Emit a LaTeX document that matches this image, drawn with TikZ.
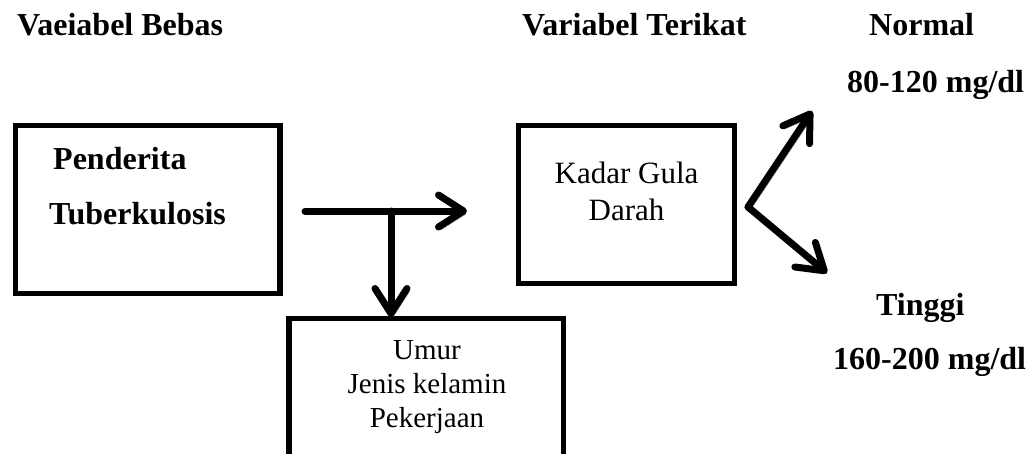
\documentclass[tikz,border=0pt]{standalone}
\usepackage{fontspec}
\setmainfont{Liberation Serif}
\usetikzlibrary{arrows.meta}

\tikzset{
  lbl/.style={anchor=base west, inner sep=0pt, font=\fontsize{32}{36}\selectfont\bfseries},
  txt/.style={anchor=base, inner sep=0pt, font=\fontsize{31}{34}\selectfont},
  frame/.style={draw=black, line width=5.5pt},
  flow/.style={line width=7pt, line cap=round, line join=round,
    -{Straight Barb[length=25pt,width=32pt,round]},
    preaction={draw=black!45, transform canvas={shift={(2.5pt,-3pt)}}}},
}

\begin{document}
\begin{tikzpicture}[x=1pt, y=-1pt]
  \useasboundingbox (0,0) rectangle (1031,453);
  \clip (0,0) rectangle (1031,453);

  % column headings
  \node[lbl] (hbebas)  at (17,35)  {Vaeiabel Bebas};
  \node[lbl] (hterikat) at (522,35) {Variabel Terikat};
  \node[lbl] (hnormal) at (869,35) {Normal};
  \node[lbl] (vnormal) at (847,92) {80-120 mg/dl};
  \node[lbl] (htinggi) at (876,315) {Tinggi};
  \node[lbl] (vtinggi) at (833,369) {160-200 mg/dl};

  % boxes
  \draw[frame] (15.5,125.5) rectangle (280,293.5);
  \node[lbl] (pend) at (53,169) {Penderita};
  \node[lbl] (tbc)  at (49,224) {Tuberkulosis};

  \draw[frame] (518.5,125.5) rectangle (734.5,283.5);
  \node[txt] (kadar) at (626.5,183) {Kadar Gula};
  \node[txt] (darah) at (626.5,220) {Darah};

  \draw[frame] (289,318.5) rectangle (563.5,458);
  \node[txt, font=\fontsize{29}{33}\selectfont] (umur)  at (427,359) {Umur};
  \node[txt, font=\fontsize{29}{33}\selectfont] (jenis) at (427,393) {Jenis kelamin};
  \node[txt, font=\fontsize{29}{33}\selectfont] (kerja) at (427,427) {Pekerjaan};

  % connector points
  \coordinate (hstart) at (305,211);
  \coordinate (junc)   at (391,211);
  \coordinate (hend)   at (467,211);
  \coordinate (vend)   at (391,317);
  \coordinate (fork)   at (748,207);
  \coordinate (up)     at (812,111);
  \coordinate (down)   at (827,273);

  % arrows
  \draw[flow] (hstart) -- (hend);
  \draw[flow] (junc) -- (vend);
  \draw[flow] (fork) -- (up);
  \draw[flow] (fork) -- (down);
\end{tikzpicture}
\end{document}
